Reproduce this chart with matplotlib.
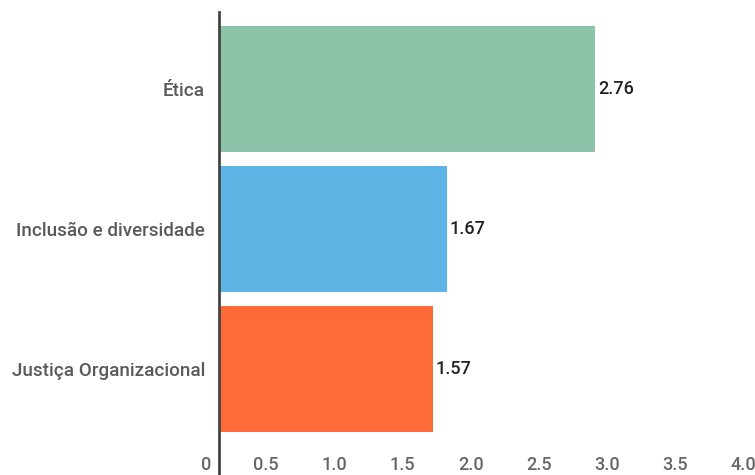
import matplotlib
matplotlib.use("Agg")
import matplotlib.pyplot as plt
import matplotlib.transforms as mtransforms

plt.rcParams["font.family"] = ["Roboto", "DejaVu Sans"]

# data (top to bottom in the chart)
categories = ["Ética", "Inclusão e diversidade", "Justiça Organizacional"]
values = [2.76, 1.67, 1.57]
colors = ["#8dc3a8", "#5eb5e5", "#fe6a38"]
xticks = [0, 0.5, 1.0, 1.5, 2.0, 2.5, 3.0, 3.5, 4.0]
xtick_labels = ["0", "0.5", "1.0", "1.5", "2.0", "2.5", "3.0", "3.5", "4.0"]

W, H = 755, 475
fig = plt.figure(figsize=(W / 100, H / 100), dpi=100)
# axes from x=219px (zero line) to 764px (4.0, just past the right edge)
ax = fig.add_axes([219 / W, 1 - 445 / H, (764 - 219) / W, (445 - 12) / H])

n = len(categories)
ypos = [n - 1 - i for i in range(n)]
ax.barh(ypos, values, height=0.9, color=colors, zorder=2)

for y, v in zip(ypos, values):
    ax.annotate(f"{v:.2f}", (v, y), xytext=(2, 0), textcoords="offset points",
                ha="left", va="center", fontsize=13, fontweight="medium",
                color="#222222")

ax.set_xlim(0, 4.0)
ax.set_ylim(-0.543, 2.55)

ax.set_yticks(ypos)
ax.set_yticklabels(categories, fontsize=13.6, fontweight="medium", color="#5a5a5a")
ax.tick_params(axis="y", length=0, pad=10)

ax.set_xticks(xticks)
ax.set_xticklabels(xtick_labels, fontsize=13, fontweight="medium",
                   color="#666666", ha="right")
ax.tick_params(axis="x", length=0, pad=8)
shift = mtransforms.ScaledTranslation(-8 / 100, 0, fig.dpi_scale_trans)
for lab in ax.get_xticklabels():
    lab.set_transform(lab.get_transform() + shift)

for s in ax.spines.values():
    s.set_visible(False)

# zero line running down through the tick label row
ax.axvline(0, ymin=-30 / 433, ymax=1, color="#444444", lw=2, clip_on=False, zorder=3)

fig.savefig("out.png", dpi=100)
